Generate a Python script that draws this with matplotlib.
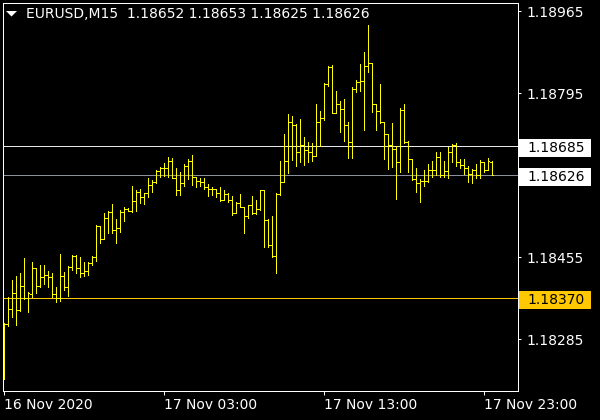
import matplotlib
matplotlib.use("Agg")
import matplotlib.pyplot as plt
from matplotlib.patches import Rectangle, Polygon
import matplotlib.transforms as mtransforms

# ---------------- data ----------------
symbol = "EURUSD,M15"

opens = [1.18312, 1.18316, 1.18347, 1.18380, 1.18345, 1.18395, 1.18370, 1.18378, 1.18432, 1.18395,
         1.18413, 1.18418, 1.18413, 1.18378, 1.18371, 1.18416, 1.18393, 1.18435, 1.18457, 1.18432,
         1.18421, 1.18425, 1.18442, 1.18454, 1.18519, 1.18493, 1.18535, 1.18548, 1.18512, 1.18516,
         1.18548, 1.18554, 1.18551, 1.18572, 1.18590, 1.18579, 1.18587, 1.18605, 1.18611, 1.18634,
         1.18639, 1.18639, 1.18655, 1.18618, 1.18594, 1.18609, 1.18644, 1.18654, 1.18621, 1.18613,
         1.18611, 1.18600, 1.18597, 1.18595, 1.18587, 1.18573, 1.18586, 1.18573, 1.18547, 1.18566,
         1.18559, 1.18540, 1.18563, 1.18547, 1.18554, 1.18594, 1.18532, 1.18480, 1.18457, 1.18586,
         1.18611, 1.18655, 1.18735, 1.18729, 1.18673, 1.18687, 1.18676, 1.18673, 1.18664, 1.18735,
         1.18743, 1.18814, 1.18848, 1.18754, 1.18772, 1.18762, 1.18729, 1.18693, 1.18803, 1.18818,
         1.18820, 1.18852, 1.18857, 1.18772, 1.18758, 1.18735, 1.18711, 1.18687, 1.18679, 1.18651,
         1.18760, 1.18694, 1.18658, 1.18617, 1.18608, 1.18613, 1.18613, 1.18635, 1.18635, 1.18663,
         1.18625, 1.18633, 1.18672, 1.18687, 1.18651, 1.18646, 1.18639, 1.18628, 1.18635, 1.18626,
         1.18651, 1.18635, 1.18652]
highs = [1.18319, 1.18373, 1.18407, 1.18416, 1.18422, 1.18452, 1.18383, 1.18445, 1.18432, 1.18438,
         1.18438, 1.18427, 1.18421, 1.18393, 1.18461, 1.18424, 1.18436, 1.18459, 1.18459, 1.18456,
         1.18445, 1.18445, 1.18457, 1.18521, 1.18519, 1.18547, 1.18551, 1.18565, 1.18533, 1.18552,
         1.18558, 1.18557, 1.18602, 1.18594, 1.18597, 1.18588, 1.18619, 1.18615, 1.18635, 1.18641,
         1.18649, 1.18662, 1.18660, 1.18639, 1.18631, 1.18648, 1.18658, 1.18666, 1.18621, 1.18619,
         1.18619, 1.18606, 1.18600, 1.18597, 1.18600, 1.18594, 1.18587, 1.18582, 1.18570, 1.18586,
         1.18559, 1.18563, 1.18582, 1.18573, 1.18594, 1.18594, 1.18533, 1.18539, 1.18588, 1.18653,
         1.18711, 1.18751, 1.18747, 1.18731, 1.18741, 1.18704, 1.18694, 1.18692, 1.18772, 1.18758,
         1.18816, 1.18850, 1.18853, 1.18799, 1.18778, 1.18783, 1.18734, 1.18808, 1.18822, 1.18855,
         1.18879, 1.18936, 1.18857, 1.18772, 1.18813, 1.18735, 1.18711, 1.18732, 1.18686, 1.18763,
         1.18772, 1.18695, 1.18658, 1.18640, 1.18617, 1.18635, 1.18647, 1.18654, 1.18673, 1.18673,
         1.18654, 1.18684, 1.18689, 1.18691, 1.18658, 1.18658, 1.18644, 1.18637, 1.18647, 1.18656,
         1.18651, 1.18661, 1.18653]
lows = [1.18202, 1.18312, 1.18331, 1.18314, 1.18344, 1.18367, 1.18342, 1.18373, 1.18380, 1.18393,
        1.18400, 1.18393, 1.18373, 1.18362, 1.18364, 1.18387, 1.18374, 1.18428, 1.18422, 1.18414,
        1.18416, 1.18418, 1.18438, 1.18447, 1.18485, 1.18492, 1.18504, 1.18504, 1.18485, 1.18507,
        1.18530, 1.18550, 1.18548, 1.18550, 1.18566, 1.18565, 1.18580, 1.18590, 1.18608, 1.18621,
        1.18623, 1.18621, 1.18618, 1.18584, 1.18584, 1.18602, 1.18617, 1.18604, 1.18600, 1.18602,
        1.18595, 1.18582, 1.18584, 1.18580, 1.18572, 1.18573, 1.18570, 1.18542, 1.18546, 1.18558,
        1.18505, 1.18535, 1.18544, 1.18544, 1.18552, 1.18476, 1.18476, 1.18456, 1.18422, 1.18584,
        1.18611, 1.18630, 1.18656, 1.18644, 1.18652, 1.18645, 1.18651, 1.18654, 1.18664, 1.18685,
        1.18739, 1.18810, 1.18753, 1.18753, 1.18715, 1.18695, 1.18661, 1.18661, 1.18798, 1.18799,
        1.18718, 1.18839, 1.18756, 1.18718, 1.18732, 1.18658, 1.18637, 1.18642, 1.18575, 1.18631,
        1.18691, 1.18632, 1.18615, 1.18590, 1.18570, 1.18603, 1.18611, 1.18621, 1.18624, 1.18621,
        1.18621, 1.18619, 1.18651, 1.18644, 1.18639, 1.18628, 1.18610, 1.18608, 1.18618, 1.18618,
        1.18631, 1.18635, 1.18625]
closes = [1.18316, 1.18347, 1.18380, 1.18345, 1.18395, 1.18370, 1.18380, 1.18432, 1.18395, 1.18413,
          1.18418, 1.18413, 1.18378, 1.18371, 1.18416, 1.18393, 1.18435, 1.18457, 1.18432, 1.18421,
          1.18425, 1.18442, 1.18454, 1.18519, 1.18493, 1.18535, 1.18548, 1.18512, 1.18516, 1.18548,
          1.18554, 1.18551, 1.18572, 1.18590, 1.18579, 1.18587, 1.18605, 1.18611, 1.18634, 1.18639,
          1.18639, 1.18655, 1.18618, 1.18594, 1.18609, 1.18644, 1.18654, 1.18621, 1.18613, 1.18611,
          1.18600, 1.18597, 1.18595, 1.18587, 1.18573, 1.18586, 1.18573, 1.18547, 1.18566, 1.18559,
          1.18540, 1.18563, 1.18547, 1.18554, 1.18594, 1.18532, 1.18480, 1.18457, 1.18586, 1.18611,
          1.18655, 1.18735, 1.18729, 1.18673, 1.18687, 1.18676, 1.18673, 1.18664, 1.18735, 1.18743,
          1.18814, 1.18848, 1.18754, 1.18772, 1.18762, 1.18729, 1.18693, 1.18803, 1.18818, 1.18820,
          1.18852, 1.18857, 1.18772, 1.18758, 1.18735, 1.18711, 1.18687, 1.18679, 1.18651, 1.18760,
          1.18694, 1.18658, 1.18617, 1.18608, 1.18613, 1.18613, 1.18635, 1.18635, 1.18663, 1.18625,
          1.18633, 1.18672, 1.18687, 1.18651, 1.18646, 1.18639, 1.18628, 1.18635, 1.18626, 1.18651,
          1.18635, 1.18653, 1.18626]

xtick_positions = [0, 40, 80, 120]
xtick_labels = ["16 Nov 2020", "17 Nov 03:00", "17 Nov 13:00", "17 Nov 23:00"]
ytick_values = [1.18965, 1.18795, 1.18455, 1.18285]

level_prices = [1.18685, 1.18626, 1.18370]
level_line_colors = ["#e6e6e6", "#8a909c", "#ffc800"]
level_box_colors = ["#ffffff", "#ffffff", "#ffc800"]

# ---------------- figure ----------------
W, H = 600, 420
fig = plt.figure(figsize=(W / 100, H / 100), dpi=100, facecolor="black")
ax = fig.add_axes([3 / W, 29 / H, 515 / W, 388 / H])
ax.set_facecolor("black")

BAR = "#ffff00"
LW = 0.72  # one pixel
n = len(opens)
xs = list(range(n))
ax.vlines(xs, lows, highs, color=BAR, lw=LW, antialiased=False, zorder=3)
ax.hlines(opens, [x - 0.45 for x in xs], xs, color=BAR, lw=LW, antialiased=False, zorder=3)
ax.hlines(closes, xs, [x + 0.45 for x in xs], color=BAR, lw=LW, antialiased=False, zorder=3)

ax.set_xlim(-0.125, -0.125 + 515 / 4)
ax.set_ylim(1.181772, 1.189816)

for p, c in zip(level_prices, level_line_colors):
    ax.axhline(p, color=c, lw=LW, antialiased=False, zorder=2)

for s in ax.spines.values():
    s.set_color("white")
    s.set_linewidth(LW)

ax.yaxis.tick_right()
ax.set_yticks(ytick_values)
ax.set_yticklabels([f"{v:.5f}" for v in ytick_values])
ax.tick_params(axis="y", colors="white", length=2.5, width=LW, pad=3.5, labelsize=10)

ax.set_xticks(xtick_positions)
ax.set_xticklabels(xtick_labels)
ax.tick_params(axis="x", colors="white", length=3, width=LW, pad=2, labelsize=10)
for lbl in ax.get_xticklabels():
    lbl.set_horizontalalignment("left")

# ---------------- price label boxes ----------------
ident = mtransforms.IdentityTransform()
for p, bc in zip(level_prices, level_box_colors):
    yd = ax.transData.transform((0, p))[1]
    yc = yd - 2
    fig.add_artist(Rectangle((519, yc - 9), 72, 18, transform=ident,
                             facecolor=bc, edgecolor="none", zorder=5))
    fig.text(527, yc, f"{p:.5f}", transform=ident, color="black", fontsize=10,
             va="center", ha="left", zorder=6)

# ---------------- header ----------------
fig.add_artist(Polygon([(6, H - 11), (17, H - 11), (11.5, H - 16.5)], closed=True,
                       transform=ident, facecolor="white", edgecolor="none"))
header = f"{symbol}  {opens[-1]:.5f} {highs[-1]:.5f} {lows[-1]:.5f} {closes[-1]:.5f}"
fig.text(26 / W, 1 - 14 / H, header, color="white", fontsize=10, va="center", ha="left")

fig.savefig("out.png", dpi=100, facecolor="black")
